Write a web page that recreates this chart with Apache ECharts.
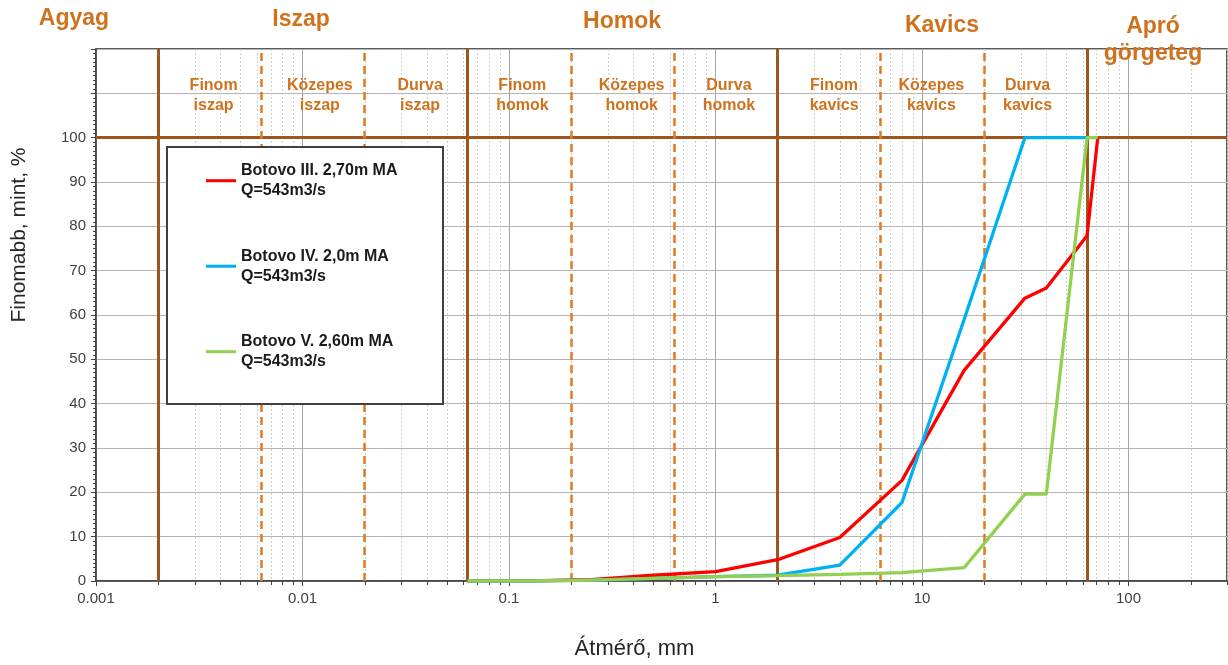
<!DOCTYPE html>
<html>
<head>
<meta charset="utf-8">
<script src="https://cdn.jsdelivr.net/npm/echarts@6/dist/echarts.min.js"></script>
<style>
html,body{margin:0;padding:0;background:#fff;}
#chart{width:1228px;height:665px;}
</style>
</head>
<body>
<div id="chart"></div>
<script>
// Sieve sizes (mm) and cumulative passing (%) for each sample
const sizesIII = [0.063, 0.125, 0.25, 0.5, 1, 2, 4, 8, 16, 31.5, 40, 63, 71];
const passIII  = [0, 0, 0.3, 1.3, 2.1, 4.8, 9.8, 22.7, 47.5, 63.8, 66.1, 77.9, 100];
const sizesIV  = [0.063, 0.125, 0.25, 0.5, 1, 2, 4, 8, 16, 31.5, 40, 63];
const passIV   = [0, 0, 0.2, 0.6, 1.0, 1.3, 3.6, 17.7, 59, 100, 100, 100];
const sizesV   = [0.063, 0.125, 0.25, 0.5, 1, 2, 4, 8, 16, 31.5, 40, 63, 71];
const passV    = [0, 0, 0.2, 0.6, 1.0, 1.2, 1.5, 1.9, 3.0, 19.6, 19.6, 100, 100];

const seriesNames  = ['Botovo III. 2,70m MA', 'Botovo IV. 2,0m MA', 'Botovo V. 2,60m MA'];
const seriesFlow   = ['Q=543m3/s', 'Q=543m3/s', 'Q=543m3/s'];
const seriesColors = ['#ff0000', '#00b0f0', '#92d050'];

const xTickLabels = ['0.001', '0.01', '0.1', '1', '10', '100'];

// Grain size class boundaries (mm)
const mainBounds = [0.002, 0.063, 2, 63];
const subBounds  = [0.0063, 0.02, 0.2, 0.63, 6.3, 20];
const subEdges   = [0.002, 0.0063, 0.02, 0.063, 0.2, 0.63, 2, 6.3, 20, 63];
const subNames   = ['Finom\niszap', 'Közepes\niszap', 'Durva\niszap',
                    'Finom\nhomok', 'Közepes\nhomok', 'Durva\nhomok',
                    'Finom\nkavics', 'Közepes\nkavics', 'Durva\nkavics'];
const mainNames  = ['Agyag', 'Iszap', 'Homok', 'Kavics', 'Apró\ngörgeteg'];

const FONT = "'Liberation Sans', Arial, sans-serif";
const BROWN = '#9e561d';
const ORANGE = '#e07b24';
const HEAD = '#cf721d';

// header placement above the plot
const mainPos = [[74, 19], [301, 20], [622, 22], [942, 26], [1153, 40]];
// small horizontal nudges for the class labels
const subShift = [4, 7, 4, 3, 9, 3, 5, -1, -8];

// minor decade lines 2..9 x 10^k
const minorLines = [];
for (let k = -3; k <= 2; k++) {
  for (let m = 2; m <= 9; m++) {
    const v = m * Math.pow(10, k);
    if (v <= 300) minorLines.push([v, 0]);
  }
}

const chart = echarts.init(document.getElementById('chart'), null, {renderer: 'canvas'});

const sampleSeries = [[sizesIII, passIII], [sizesIV, passIV], [sizesV, passV]].map((d, i) => ({
  name: seriesNames[i],
  type: 'line',
  data: d[0].map((s, j) => [s, d[1][j]]),
  showSymbol: false,
  symbol: 'none',
  color: seriesColors[i],
  lineStyle: {color: seriesColors[i], width: 3.3},
  z: 6 + i,
  silent: true
}));

const option = {
  animation: false,
  textStyle: {fontFamily: FONT},
  grid: {left: 96, right: 1, top: 49, bottom: 80, show: true, borderColor: '#262626', borderWidth: 1.5, backgroundColor: '#fff'},
  xAxis: {
    type: 'log', logBase: 10, min: 0.001, max: 300,
    axisLine: {show: true, lineStyle: {color: '#404040', width: 1.5}},
    axisTick: {show: true, length: 5, lineStyle: {color: '#404040'}},
    axisLabel: {
      fontSize: 15, color: '#404040', margin: 10, fontFamily: FONT, showMaxLabel: false,
      formatter: v => {
        const l = Math.log10(v), r = Math.round(l);
        if (Math.abs(l - r) > 1e-6) return '';
        return xTickLabels[r + 3] || '';
      }
    },
    splitLine: {show: true, lineStyle: {color: '#a6a6a6', width: 1}},
    name: 'Átmérő, mm', nameLocation: 'middle', nameGap: 57,
    nameTextStyle: {fontSize: 22, color: '#262626', fontFamily: FONT, padding: [0, 54, 0, 0]}
  },
  yAxis: {
    type: 'value', min: 0, max: 120, interval: 10,
    axisLine: {show: true, lineStyle: {color: '#404040', width: 1.5}},
    axisTick: {show: true, length: 5, lineStyle: {color: '#404040'}},
    minorTick: {show: true, splitNumber: 10, length: 3, lineStyle: {color: '#404040'}},
    axisLabel: {fontSize: 15, color: '#404040', margin: 10, fontFamily: FONT,
      formatter: v => (v <= 100 ? String(v) : '')},
    splitLine: {show: true, lineStyle: {color: '#b4b4b4', width: 1}},
    name: 'Finomabb, mint, %', nameLocation: 'middle', nameGap: 66,
    nameTextStyle: {fontSize: 21, color: '#262626', fontFamily: FONT, padding: [0, 0, 0, 160]}
  },
  legend: {
    data: seriesNames, orient: 'vertical', left: 206, top: 150.7, padding: 0,
    itemGap: 25.5, itemWidth: 30, itemHeight: 3, icon: 'rect', selectedMode: false, z: 20,
    formatter: name => name + '\n' + seriesFlow[seriesNames.indexOf(name)],
    textStyle: {fontSize: 16, fontWeight: 'bold', color: '#1a1a1a', lineHeight: 20,
      padding: [20, 0, 0, 0], fontFamily: FONT}
  },
  graphic: [
    {type: 'rect', left: 166, top: 146, z: 15, silent: true,
      shape: {width: 276, height: 257},
      style: {fill: '#fff', stroke: '#404040', lineWidth: 2}}
  ].concat(mainNames.map((n, i) => ({
    type: 'text', x: mainPos[i][0], y: mainPos[i][1], z: 15, silent: true,
    style: {text: n, align: 'center', verticalAlign: 'middle', fill: HEAD,
      font: 'bold 23px ' + FONT, lineHeight: 27}
  }))),
  series: [
    {
      name: 'minor',
      type: 'custom',
      data: minorLines,
      encode: {x: 0, y: 1},
      silent: true,
      z: 1,
      renderItem: (params, api) => {
        const x = api.value(0);
        const top = api.coord([x, 120]);
        const bot = api.coord([x, 0]);
        const px = Math.round(top[0]) + 0.5;
        return {type: 'group', children: [
          {type: 'line', shape: {x1: px, y1: top[1], x2: px, y2: bot[1]},
            style: {stroke: '#d0d0d0', lineWidth: 1, lineDash: [2, 2]}},
          {type: 'line', shape: {x1: px, y1: bot[1], x2: px, y2: bot[1] + 4},
            style: {stroke: '#404040', lineWidth: 1}}
        ]};
      }
    },
    {
      name: 'bounds',
      type: 'line',
      data: [],
      silent: true,
      z: 3,
      markLine: {
        symbol: ['none', 'none'], silent: true, animation: false, precision: 6,
        label: {show: false},
        data: mainBounds.map(v => ({xAxis: v, lineStyle: {color: BROWN, width: 3, type: 'solid'}}))
          .concat([{yAxis: 100, lineStyle: {color: BROWN, width: 3, type: 'solid'}}])
          .concat(subBounds.map(v => ({xAxis: v, lineStyle: {color: ORANGE, width: 2.5, type: [8, 5]}})))
      },
      markArea: {
        silent: true,
        itemStyle: {color: 'rgba(0,0,0,0)'},
        label: {show: true, position: 'inside', color: HEAD, fontSize: 16, fontWeight: 'bold',
          lineHeight: 20, fontFamily: FONT},
        data: subNames.map((n, i) => [
          {name: n, xAxis: subEdges[i], yAxis: 100, label: {offset: [subShift[i], 2]}},
          {xAxis: subEdges[i + 1], yAxis: 120}
        ])
      }
    }
  ].concat(sampleSeries)
};

chart.setOption(option);
</script>
</body>
</html>
